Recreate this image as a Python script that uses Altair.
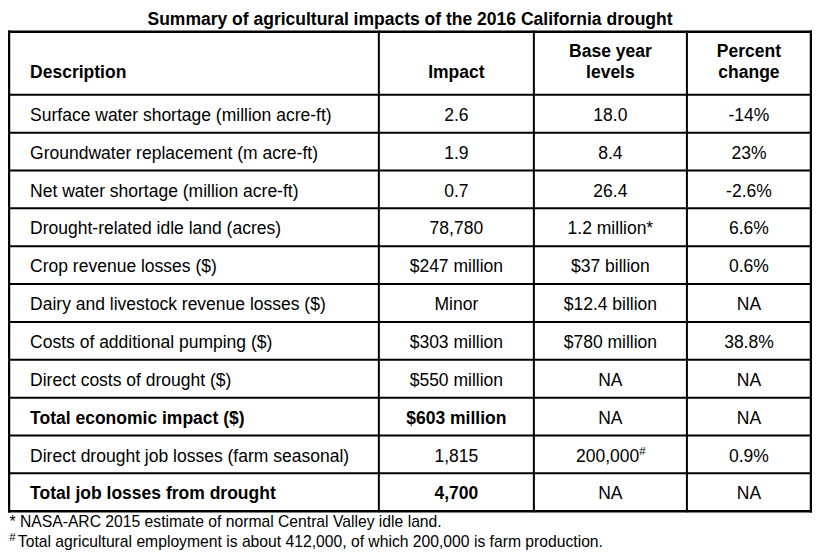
import altair as alt
import pandas as pd

# ---------------- data ----------------
TITLE = "Summary of agricultural impacts of the 2016 California drought"
HEADERS = [["Description"], ["Impact"], ["Base year", "levels"], ["Percent", "change"]]
DESCRIPTIONS = [
    "Surface water shortage (million acre-ft)",
    "Groundwater replacement (m acre-ft)",
    "Net water shortage (million acre-ft)",
    "Drought-related idle land (acres)",
    "Crop revenue losses ($)",
    "Dairy and livestock revenue losses ($)",
    "Costs of additional pumping ($)",
    "Direct costs of drought ($)",
    "Total economic impact ($)",
    "Direct drought job losses (farm seasonal)",
    "Total job losses from drought",
]
IMPACTS = ["2.6", "1.9", "0.7", "78,780", "$247 million", "Minor", "$303 million",
           "$550 million", "$603 million", "1,815", "4,700"]
BASE_LEVELS = ["18.0", "8.4", "26.4", "1.2 million*", "$37 billion", "$12.4 billion",
               "$780 million", "NA", "NA", "200,000", "NA"]
BASE_SUPERSCRIPTS = ["", "", "", "", "", "", "", "", "", "#", ""]
PERCENT_CHANGES = ["-14%", "23%", "-2.6%", "6.6%", "0.6%", "NA", "38.8%", "NA", "NA",
                   "0.9%", "NA"]
BOLD_ROWS = [False, False, False, False, False, False, False, False, True, False, True]
FOOTNOTE_MARKS = ["", "#"]
FOOTNOTES = ["* NASA-ARC 2015 estimate of normal Central Valley idle land.",
             "Total agricultural employment is about 412,000, of which 200,000 is farm production."]

# ---------------- layout (reference units) ----------------
COL_EDGES = [1.0, 378.0, 536.0, 692.0, 818.5]
TABLE_TOP = 24.0
HEADER_BOTTOM = 88.7
ROW_H = 38.9
LEFT_PAD = 21.5
BODY_BASE = 26.8
HEADER_BASES = [25.5, 47.0]
TITLE_BASE = 17.0
FOOT_BASES = [15.8, 37.0]
SUP_SHIFT = 29.5
FONT = "Liberation Sans, Arial, sans-serif"
BODY_SIZE = 17.5
FOOT_SIZE = 15.7

n_rows = len(DESCRIPTIONS)
row_tops = [HEADER_BOTTOM + i * ROW_H for i in range(n_rows)]
TABLE_BOTTOM = HEADER_BOTTOM + n_rows * ROW_H
centers = [(COL_EDGES[i] + COL_EDGES[i + 1]) / 2 for i in range(len(COL_EDGES) - 1)]

cells = []
# header
for c, lines in enumerate(HEADERS):
    offs = HEADER_BASES[-len(lines):]
    for line, off in zip(lines, offs):
        cells.append(dict(x=COL_EDGES[0] + LEFT_PAD if c == 0 else centers[c],
                          y=TABLE_TOP + off, text=line, bold=True,
                          align="left" if c == 0 else "center", size=BODY_SIZE))
# body
for i in range(n_rows):
    y = row_tops[i] + BODY_BASE
    b = BOLD_ROWS[i]
    cells.append(dict(x=COL_EDGES[0] + LEFT_PAD, y=y, text=DESCRIPTIONS[i], bold=b,
                      align="left", size=BODY_SIZE))
    cells.append(dict(x=centers[1], y=y, text=IMPACTS[i], bold=b, align="center", size=BODY_SIZE))
    if BASE_SUPERSCRIPTS[i]:
        cells.append(dict(x=centers[2] + SUP_SHIFT, y=y, text=BASE_LEVELS[i], bold=False,
                          align="right", size=BODY_SIZE))
        cells.append(dict(x=centers[2] + SUP_SHIFT, y=y - 6.5, text=BASE_SUPERSCRIPTS[i],
                          bold=False, align="left", size=11.5))
    else:
        cells.append(dict(x=centers[2], y=y, text=BASE_LEVELS[i], bold=False,
                          align="center", size=BODY_SIZE))
    cells.append(dict(x=centers[3], y=y, text=PERCENT_CHANGES[i], bold=False,
                      align="center", size=BODY_SIZE))
# title
cells.append(dict(x=(COL_EDGES[0] + COL_EDGES[-1]) / 2, y=TITLE_BASE, text=TITLE, bold=True,
                  align="center", size=BODY_SIZE))
# footnotes
for mark, note, off in zip(FOOTNOTE_MARKS, FOOTNOTES, FOOT_BASES):
    if mark:
        cells.append(dict(x=COL_EDGES[0] + 0.3, y=TABLE_BOTTOM + off - 6.6, text=mark,
                          bold=False, align="left", size=11.5))
        cells.append(dict(x=COL_EDGES[0] + 9.0, y=TABLE_BOTTOM + off, text=note,
                          bold=False, align="left", size=FOOT_SIZE))
    else:
        cells.append(dict(x=COL_EDGES[0] + 0.5, y=TABLE_BOTTOM + off, text=note,
                          bold=False, align="left", size=FOOT_SIZE))
cells = pd.DataFrame(cells)

# grid lines
lines = []
h_edges = [TABLE_TOP, HEADER_BOTTOM] + [HEADER_BOTTOM + (i + 1) * ROW_H for i in range(n_rows)]
for k, yv in enumerate(h_edges):
    outer = k in (0, len(h_edges) - 1)
    lines.append(dict(x=COL_EDGES[0], x2=COL_EDGES[-1], y=yv, y2=yv, w=2.5 if outer else 2.0))
for k, xv in enumerate(COL_EDGES):
    outer = k in (0, len(COL_EDGES) - 1)
    lines.append(dict(x=xv, x2=xv, y=TABLE_TOP, y2=TABLE_BOTTOM, w=2.5 if outer else 2.0))
lines = pd.DataFrame(lines)

# ---------------- chart ----------------
W, H = 804, 544
xs = alt.Scale(domain=[0, 819.5], nice=False, zero=False)
ys = alt.Scale(domain=[-0.5, 558.5], nice=False, zero=False, reverse=True)

rules = alt.Chart(lines).mark_rule(color="black", strokeCap="square").encode(
    x=alt.X("x:Q", scale=xs, axis=None),
    x2="x2:Q",
    y=alt.Y("y:Q", scale=ys, axis=None),
    y2="y2:Q",
    strokeWidth=alt.StrokeWidth("w:Q", scale=None),
)

layers = [rules]
for (bold, align, size), grp in cells.groupby(["bold", "align", "size"]):
    layers.append(
        alt.Chart(grp).mark_text(
            font=FONT, fontSize=float(size), fontWeight="bold" if bold else "normal",
            align=align, baseline="alphabetic", color="black",
        ).encode(
            x=alt.X("x:Q", scale=xs, axis=None),
            y=alt.Y("y:Q", scale=ys, axis=None),
            text="text:N",
        )
    )

chart = alt.layer(*layers).properties(
    width=W, height=H, padding=0, autosize="none", background="white"
).configure_view(stroke=None)

chart.save("out.html", embed_options={"renderer": "svg", "actions": False})
